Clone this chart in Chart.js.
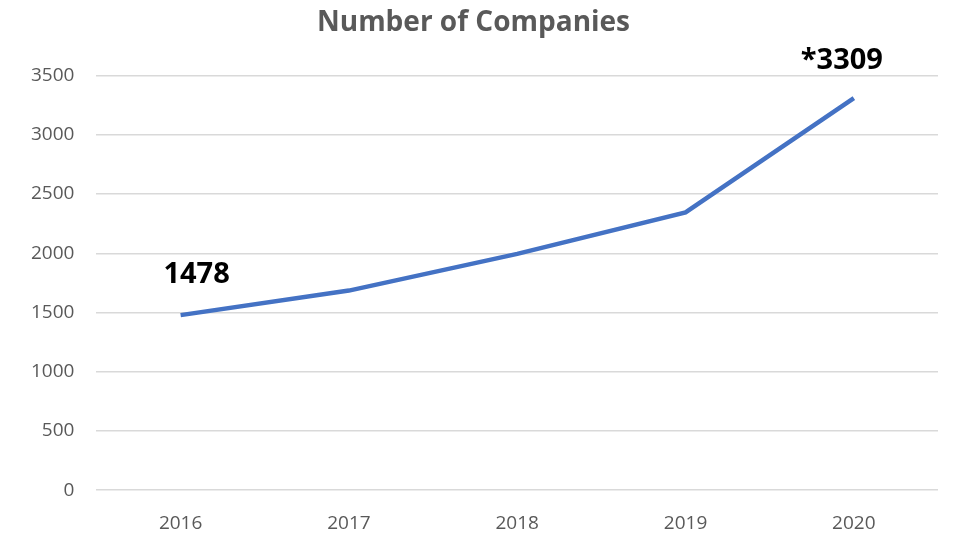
<!DOCTYPE html>
<html>
<head>
<meta charset="utf-8">
<script src="https://cdn.jsdelivr.net/npm/chart.js@4"></script>
<style>
  html, body { margin: 0; padding: 0; background: #fff; }
  #wrap { width: 954px; height: 535px; }
</style>
</head>
<body>
<div id="wrap"><canvas id="chart"></canvas></div>
<script>
const years = ['2016', '2017', '2018', '2019', '2020'];
const companies = [1478, 1685, 1995, 2345, 3309];
const pointLabels = ['1478', '', '', '', '*3309'];

// draw the bold callouts above the first and last point
const callouts = {
  id: 'callouts',
  afterDatasetsDraw(chart) {
    const ctx = chart.ctx;
    const meta = chart.getDatasetMeta(0);
    ctx.save();
    ctx.font = 'bold 29px "Open Sans", sans-serif';
    ctx.fillStyle = '#000';
    ctx.textAlign = 'center';
    ctx.textBaseline = 'bottom';
    meta.data.forEach(function(pt, i) {
      if (!pointLabels[i]) return;
      const dx = i === 0 ? 16 : -12;
      const dy = i === 0 ? 26 : 23;
      ctx.fillText(pointLabels[i], pt.x + dx, pt.y - dy);
    });
    ctx.restore();
  }
};

window.onload = function(){
  const config = {
    type: 'line',
    data: {
      labels: years,
      datasets: [{
        label: 'Number of Companies',
        data: companies,
        borderColor: '#4472c4',
        borderWidth: 4.5,
        pointRadius: 0,
        tension: 0,
        fill: false
      }]
    },
    options: {
      responsive: true,
      maintainAspectRatio: false,
      animation: false,
      layout: { padding: { left: 9, right: 16, top: 6, bottom: -14 } },
      plugins: {
        legend: { display: false },
        tooltip: { enabled: false },
        title: {
          display: true,
          text: 'Number of Companies',
          color: '#595959',
          font: { family: '"Open Sans", sans-serif', size: 28, weight: 'bold' },
          padding: { top: 0, bottom: 36 }
        }
      },
      scales: {
        x: {
          offset: true,
          grid: { display: false, offset: true },
          border: { display: false },
          ticks: {
            color: '#595959',
            font: { family: '"Open Sans", sans-serif', size: 19 },
            padding: 14
          }
        },
        y: {
          min: 0,
          max: 3500,
          ticks: {
            stepSize: 500,
            color: '#595959',
            font: { family: '"Open Sans", sans-serif', size: 19 },
            padding: 22,
            callback: function(v) { return String(v); }
          },
          grid: { color: '#d9d9d9', lineWidth: 1.5, drawTicks: false },
          border: { display: false }
        }
      }
    },
    plugins: [callouts]
  };

  window.line = new Chart(document.getElementById('chart').getContext('2d'), config);
};
</script>
</body>
</html>
